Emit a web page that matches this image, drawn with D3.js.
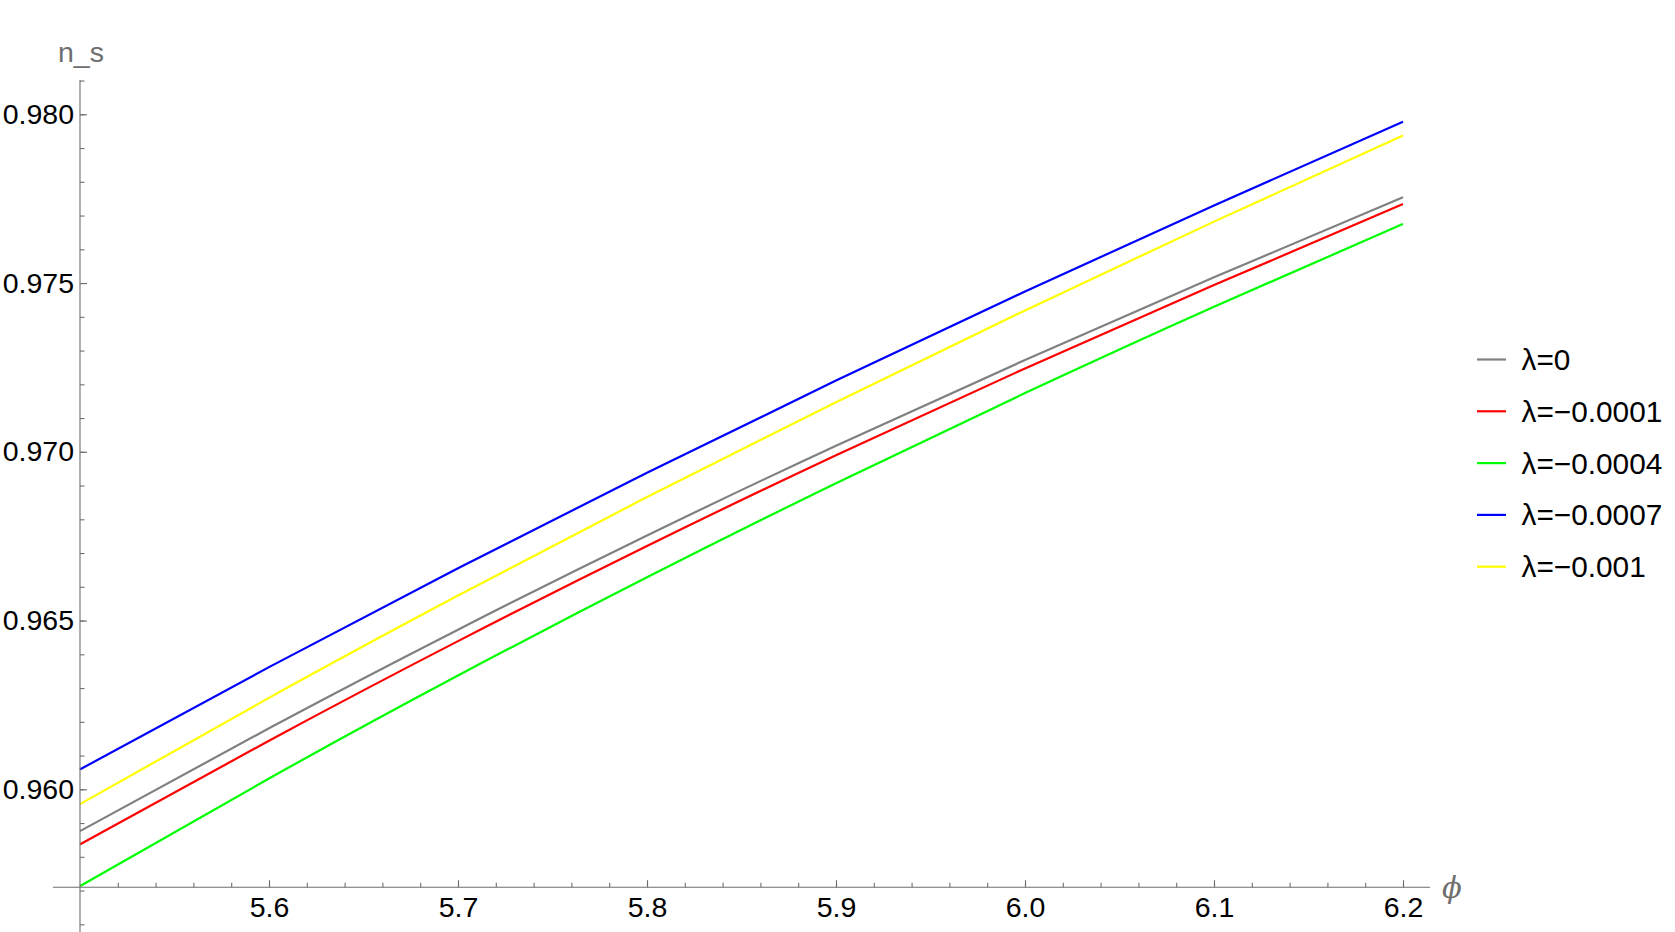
<!DOCTYPE html>
<html>
<head>
<meta charset="utf-8">
<script src="https://cdn.jsdelivr.net/npm/d3@7"></script>
<style>
  html, body { margin: 0; padding: 0; background: #fff; }
  svg { display: block; }
  text { font-family: "Liberation Sans", Arial, Helvetica, sans-serif; }
</style>
</head>
<body>
<svg id="chart" width="1675" height="932"></svg>
<script>
// ---- data ----
const phi = [5.5, 5.6, 5.7, 5.8, 5.9, 6.0, 6.1, 6.2];
const nsLambda0     = [0.95876, 0.96181, 0.96473, 0.96752, 0.97018, 0.97272, 0.97517, 0.97754];
const nsLambdaM0001 = [0.95837, 0.96144, 0.96439, 0.96721, 0.96990, 0.97247, 0.97494, 0.97734];
const nsLambdaM0004 = [0.95713, 0.96032, 0.96337, 0.96628, 0.96907, 0.97174, 0.97430, 0.97675];
const nsLambdaM0007 = [0.96059, 0.96362, 0.96655, 0.96938, 0.97211, 0.97475, 0.97730, 0.97978];
const nsLambdaM001  = [0.95956, 0.96271, 0.96574, 0.96866, 0.97147, 0.97419, 0.97682, 0.97937];
const seriesNames = ["\u03bb=0", "\u03bb=\u22120.0001", "\u03bb=\u22120.0004", "\u03bb=\u22120.0007", "\u03bb=\u22120.001"];
const seriesColors = ["#808080", "#ff0000", "#00ff00", "#0000ff", "#ffff00"];
const seriesValues = [nsLambda0, nsLambdaM0001, nsLambdaM0004, nsLambdaM0007, nsLambdaM001];
const xMajorTicks = [5.6, 5.7, 5.8, 5.9, 6.0, 6.1, 6.2];
const xMinorTicks = d3.range(276, 311).map(v => v / 50);
const yMajorTicks = [0.960, 0.965, 0.970, 0.975, 0.980];
const yMinorTicks = d3.range(956, 982).map(v => v / 1000);
const xAxisLabel = "\u03d5";
const yAxisLabel = "n_s";

// ---- layout ----
const svg = d3.select("#chart");
const x = d3.scaleLinear().domain([5.5, 6.2]).range([80, 1403]);
const y = d3.scaleLinear().domain([0.960, 0.980]).range([789.3, 114.3]);
const axisColor = "#6e6e6e";
const fontSize = 28.5;
const yOriginVal = 0.9571;   // where the horizontal axis crosses
const xOriginVal = 5.5;

// curves
const line = d3.line().x((d, i) => x(phi[i])).y(d => y(d)).curve(d3.curveNatural);
svg.append("g").selectAll("path").data(seriesValues).join("path")
  .attr("d", d => line(d))
  .attr("fill", "none")
  .attr("stroke", (d, i) => seriesColors[i])
  .attr("stroke-width", 2.2);

// x axis
const xAxisY = y(yOriginVal);
const gx = svg.append("g").attr("transform", `translate(0,${xAxisY})`);
gx.call(d3.axisBottom(x).tickValues(xMinorTicks).tickSize(-4.5).tickFormat(""));
gx.call(g => g.select(".domain").remove());
const gx2 = svg.append("g").attr("transform", `translate(0,${xAxisY})`);
gx2.call(d3.axisBottom(x).tickValues(xMajorTicks).tickSize(-7).tickPadding(10).tickFormat(d3.format(".1f")));
gx2.call(g => g.select(".domain").remove());
svg.append("line")
  .attr("x1", x(5.4857)).attr("x2", x(6.2143))
  .attr("y1", xAxisY).attr("y2", xAxisY);

// y axis
const yAxisX = x(xOriginVal);
const gy = svg.append("g").attr("transform", `translate(${yAxisX},0)`);
gy.call(d3.axisLeft(y).tickValues(yMinorTicks).tickSize(-4.5).tickFormat(""));
gy.call(g => g.select(".domain").remove());
const gy2 = svg.append("g").attr("transform", `translate(${yAxisX},0)`);
gy2.call(d3.axisLeft(y).tickValues(yMajorTicks).tickSize(-7).tickPadding(6).tickFormat(d3.format(".3f")));
gy2.call(g => g.select(".domain").remove());
svg.append("line")
  .attr("x1", yAxisX).attr("x2", yAxisX)
  .attr("y1", y(0.98102)).attr("y2", y(0.9557));

svg.selectAll("line").attr("stroke", axisColor).attr("stroke-width", 1.1);
svg.selectAll(".tick line").attr("stroke", axisColor).attr("stroke-width", 1.1);
svg.selectAll(".tick text")
  .attr("fill", "#000")
  .style("font-size", fontSize + "px")
  .style("font-family", '"Liberation Sans", Arial, sans-serif');

// axis labels
svg.append("text")
  .attr("x", 58).attr("y", 62)
  .attr("fill", axisColor)
  .style("font-size", fontSize + "px")
  .text(yAxisLabel);
svg.append("text")
  .attr("x", 1442).attr("y", 898)
  .attr("fill", axisColor)
  .style("font-size", "29px")
  .style("font-style", "italic")
  .style("font-family", '"DejaVu Serif", "Liberation Serif", serif')
  .text(xAxisLabel);

// legend
const legend = svg.append("g").attr("transform", "translate(1477,359.5)");
const rows = legend.selectAll("g").data(seriesNames).join("g")
  .attr("transform", (d, i) => `translate(0,${i * 51.8})`);
rows.append("line")
  .attr("x1", 0).attr("x2", 29).attr("y1", 0).attr("y2", 0)
  .attr("stroke", (d, i) => seriesColors[i])
  .attr("stroke-width", 2.2);
rows.append("text")
  .attr("x", 44.5).attr("y", 0).attr("dy", "0.35em")
  .attr("fill", "#000")
  .style("font-size", "29.8px")
  .text(d => d);
</script>
</body>
</html>
